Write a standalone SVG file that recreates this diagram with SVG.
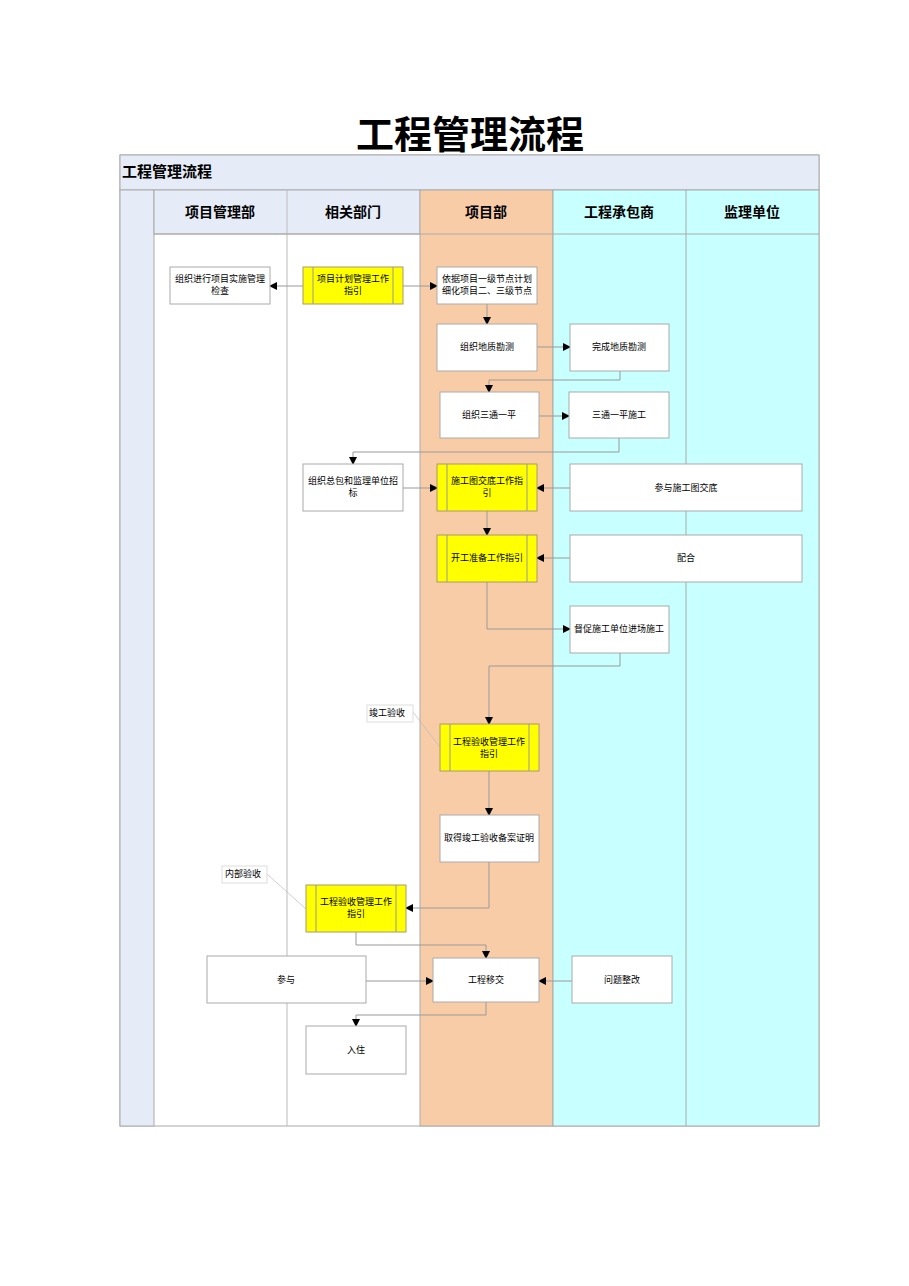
<svg xmlns="http://www.w3.org/2000/svg" width="909" height="1286" viewBox="0 0 909 1286">
<style>
text{font-family:"Liberation Sans","Noto Sans CJK SC",sans-serif;font-size:9px;fill:#000;text-anchor:middle}
.h{font-size:14px;font-weight:bold}
.n{fill:#fff;stroke:#aaa;stroke-width:1}
.y{fill:#ffff00;stroke:#a89a70;stroke-width:1}
.c{fill:none;stroke:#999;stroke-width:1}
.l{fill:none;stroke:#bbb;stroke-width:0.7}
</style>
<defs><marker id="a" markerWidth="8" markerHeight="8" refX="7" refY="4" orient="auto" markerUnits="userSpaceOnUse"><path d="M0,0L8,4L0,8z" fill="#000"/></marker></defs>
<rect width="909" height="1286" fill="#fff"/>
<text x="470" y="148" style="font-family:'Liberation Serif','Noto Sans CJK SC',serif;font-size:38px;font-weight:bold">工程管理流程</text>
<g id="frame">
<rect x="120" y="155" width="699" height="971" fill="#fff" stroke="#aaa"/>
<rect x="120" y="155" width="699" height="35" fill="#e6ecf7" stroke="#aaa"/>
<text x="122" y="177" class="h" style="text-anchor:start;font-size:15px">工程管理流程</text>
<rect x="120" y="190" width="34" height="936" fill="#e6ecf7" stroke="#aaa"/>
<rect x="154" y="190" width="266" height="44" fill="#e6ecf7" stroke="#aaa"/>
<rect x="420" y="190" width="133" height="936" fill="#f9cca8" stroke="#aaa"/>
<rect x="553" y="190" width="266" height="936" fill="#c8ffff" stroke="#aaa"/>
<line x1="287" y1="190" x2="287" y2="1126" stroke="#bbb"/>
<line x1="686" y1="190" x2="686" y2="1126" stroke="#aaa"/>
<line x1="154" y1="234" x2="819" y2="234" stroke="#aaa"/>
<text x="220" y="217" class="h">项目管理部</text>
<text x="353" y="217" class="h">相关部门</text>
<text x="486" y="217" class="h">项目部</text>
<text x="619" y="217" class="h">工程承包商</text>
<text x="752" y="217" class="h">监理单位</text>
</g>
<g id="connectors">
<path class="c" d="M303,286H270" marker-end="url(#a)"/>
<path class="c" d="M403,286H437" marker-end="url(#a)"/>
<path class="c" d="M487,304V324" marker-end="url(#a)"/>
<path class="c" d="M537,347H570" marker-end="url(#a)"/>
<path class="c" d="M620,371V380H489V392" marker-end="url(#a)"/>
<path class="c" d="M539,416H569" marker-end="url(#a)"/>
<path class="c" d="M619,438V452H353V464" marker-end="url(#a)"/>
<path class="c" d="M403,488H437" marker-end="url(#a)"/>
<path class="c" d="M570,488H537" marker-end="url(#a)"/>
<path class="c" d="M487,511V535" marker-end="url(#a)"/>
<path class="c" d="M570,558H537" marker-end="url(#a)"/>
<path class="c" d="M487,582V629H570" marker-end="url(#a)"/>
<path class="c" d="M620,653V666H489V724" marker-end="url(#a)"/>
<path class="c" d="M489,771V815" marker-end="url(#a)"/>
<path class="c" d="M489,862V908H406" marker-end="url(#a)"/>
<path class="c" d="M356,932V945H486V958" marker-end="url(#a)"/>
<path class="c" d="M366,981H433" marker-end="url(#a)"/>
<path class="c" d="M572,981H539" marker-end="url(#a)"/>
<path class="c" d="M486,1002V1015H356V1026" marker-end="url(#a)"/>
<path class="l" d="M413,712L440,747"/>
<path class="l" d="M267,874L306,909"/>
</g>
<g id="n1"><rect class="n" x="170" y="267" width="100" height="37"/><text x="220" y="282">组织进行项目实施管理</text><text x="220" y="294">检查</text></g>
<g id="n2"><rect class="y" x="303" y="267" width="100" height="37"/><path class="c" d="M313,267V304M393,267V304"/><text x="353" y="282">项目计划管理工作</text><text x="353" y="294">指引</text></g>
<g id="n3"><rect class="n" x="437" y="267" width="100" height="37"/><text x="487" y="282">依据项目一级节点计划</text><text x="487" y="294">细化项目二、三级节点</text></g>
<g id="n4"><rect class="n" x="437" y="324" width="100" height="47"/><text x="487" y="350">组织地质勘测</text></g>
<g id="n5"><rect class="n" x="570" y="324" width="99" height="47"/><text x="619" y="350">完成地质勘测</text></g>
<g id="n6"><rect class="n" x="440" y="392" width="99" height="46"/><text x="489" y="418">组织三通一平</text></g>
<g id="n7"><rect class="n" x="569" y="392" width="100" height="46"/><text x="619" y="418">三通一平施工</text></g>
<g id="n8"><rect class="n" x="303" y="464" width="100" height="47"/><text x="353" y="484">组织总包和监理单位招</text><text x="353" y="496">标</text></g>
<g id="n9"><rect class="y" x="437" y="464" width="100" height="47"/><path class="c" d="M447,464V511M527,464V511"/><text x="487" y="484">施工图交底工作指</text><text x="487" y="496">引</text></g>
<g id="n10"><rect class="n" x="570" y="464" width="232" height="47"/><text x="686" y="491">参与施工图交底</text></g>
<g id="n11"><rect class="y" x="437" y="535" width="100" height="47"/><path class="c" d="M447,535V582M527,535V582"/><text x="487" y="561">开工准备工作指引</text></g>
<g id="n12"><rect class="n" x="570" y="535" width="232" height="47"/><text x="686" y="561">配合</text></g>
<g id="n13"><rect class="n" x="570" y="606" width="99" height="47"/><text x="619" y="632">督促施工单位进场施工</text></g>
<g id="n14"><rect x="367" y="705" width="46" height="17" fill="#fff" stroke="#ddd"/><text x="387" y="716">竣工验收</text></g>
<g id="n15"><rect class="y" x="440" y="724" width="99" height="47"/><path class="c" d="M450,724V771M529,724V771"/><text x="489" y="745">工程验收管理工作</text><text x="489" y="757">指引</text></g>
<g id="n16"><rect class="n" x="440" y="815" width="99" height="47"/><text x="489" y="841">取得竣工验收备案证明</text></g>
<g id="n17"><rect x="222" y="866" width="45" height="17" fill="#fff" stroke="#ddd"/><text x="243" y="877">内部验收</text></g>
<g id="n18"><rect class="y" x="306" y="885" width="100" height="47"/><path class="c" d="M316,885V932M396,885V932"/><text x="356" y="905">工程验收管理工作</text><text x="356" y="917">指引</text></g>
<g id="n19"><rect class="n" x="207" y="956" width="159" height="47"/><text x="286" y="983">参与</text></g>
<g id="n20"><rect class="n" x="433" y="958" width="106" height="44"/><text x="486" y="983">工程移交</text></g>
<g id="n21"><rect class="n" x="572" y="956" width="100" height="47"/><text x="622" y="983">问题整改</text></g>
<g id="n22"><rect class="n" x="306" y="1026" width="100" height="48"/><text x="356" y="1053">入住</text></g>
</svg>
